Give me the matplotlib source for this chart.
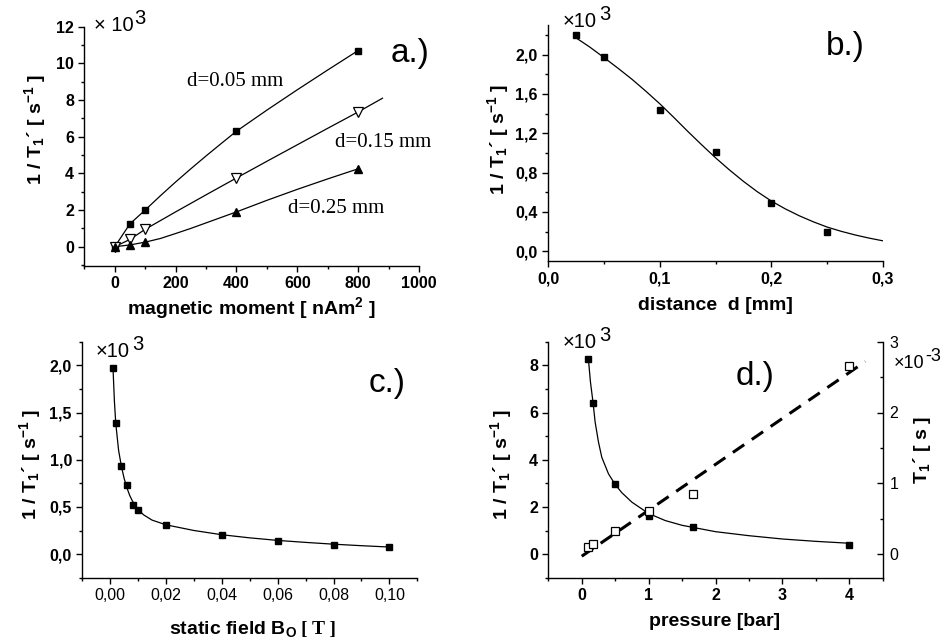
import matplotlib
matplotlib.use("Agg")
import matplotlib.pyplot as plt
from matplotlib.ticker import FixedLocator, MultipleLocator, FixedFormatter

plt.rcParams['font.family'] = ['Liberation Sans', 'DejaVu Sans']
plt.rcParams['mathtext.fontset'] = 'custom'
plt.rcParams['mathtext.rm'] = 'Liberation Sans'
plt.rcParams['mathtext.bf'] = 'Liberation Sans:bold'
plt.rcParams['mathtext.it'] = 'Liberation Sans:italic'

# ---------------- data ----------------
# panel a: 1/T1' (x10^3 s^-1) vs magnetic moment (nAm^2)
a_moment = [0, 50, 100, 400, 800]
a_d005 = [0, 1.25, 2.0, 6.3, 10.7]
a_d015 = [0, 0.4, 0.95, 3.75, 7.35]
a_d025 = [0, 0.1, 0.25, 1.9, 4.25]
a_curve005_x = [0, 50, 100, 150, 200, 250, 300, 350, 400, 500, 600, 700, 800]
a_curve005_y = [0, 1.25, 2.0, 2.78, 3.53, 4.25, 4.95, 5.63, 6.3, 7.45, 8.56, 9.64, 10.7]
a_curve015_x = [0, 50, 100, 200, 300, 400, 500, 600, 700, 800, 880]
a_curve015_y = [0, 0.4, 0.95, 1.9, 2.83, 3.75, 4.66, 5.56, 6.46, 7.35, 8.1]
a_curve025_x = [0, 50, 100, 150, 200, 250, 300, 350, 400, 500, 600, 700, 800]
a_curve025_y = [0, 0.1, 0.25, 0.45, 0.72, 1.0, 1.3, 1.6, 1.9, 2.53, 3.13, 3.7, 4.25]
a_yticks = [0, 2, 4, 6, 8, 10, 12]
a_xticks = [0, 200, 400, 600, 800, 1000]

# panel b: 1/T1' vs distance d (mm)
b_dist = [0.025, 0.05, 0.1, 0.15, 0.2, 0.25]
b_rate = [2.2, 1.97, 1.44, 1.01, 0.49, 0.2]
b_fit_x = [0.025, 0.0375, 0.05, 0.0625, 0.075, 0.0875, 0.1, 0.1125, 0.125, 0.1375, 0.15,
           0.1625, 0.175, 0.1875, 0.2, 0.2125, 0.225, 0.2375, 0.25, 0.2625, 0.275, 0.2875, 0.3]
b_fit_y = [2.17, 2.075, 1.97, 1.862, 1.75, 1.628, 1.5, 1.362, 1.22, 1.083, 0.95,
           0.826, 0.71, 0.604, 0.51, 0.43, 0.36, 0.299, 0.245, 0.202, 0.165, 0.133, 0.105]
b_yticks = [0.0, 0.4, 0.8, 1.2, 1.6, 2.0]
b_ylabels = ['0,0', '0,4', '0,8', '1,2', '1,6', '2,0']
b_xticks = [0.0, 0.1, 0.2, 0.3]
b_xlabels = ['0,0', '0,1', '0,2', '0,3']

# panel c: 1/T1' vs static field B0 (T)
c_field = [0.001, 0.002, 0.004, 0.006, 0.008, 0.01, 0.02, 0.04, 0.06, 0.08, 0.1]
c_rate = [1.97, 1.39, 0.93, 0.73, 0.52, 0.47, 0.31, 0.2, 0.135, 0.1, 0.07]
c_fit_x = [0.001, 0.0015, 0.002, 0.003, 0.004, 0.005, 0.006, 0.007, 0.008, 0.01, 0.012,
           0.015, 0.02, 0.03, 0.04, 0.05, 0.06, 0.07, 0.08, 0.09, 0.1]
c_fit_y = [1.97, 1.62, 1.38, 1.1, 0.93, 0.8, 0.7, 0.62, 0.56, 0.47, 0.415,
           0.36, 0.31, 0.25, 0.205, 0.172, 0.145, 0.124, 0.105, 0.089, 0.075]
c_yticks = [0.0, 0.5, 1.0, 1.5, 2.0]
c_ylabels = ['0,0', '0,5', '1,0', '1,5', '2,0']
c_xticks = [0.0, 0.02, 0.04, 0.06, 0.08, 0.10]
c_xlabels = ['0,00', '0,02', '0,04', '0,06', '0,08', '0,10']

# panel d: 1/T1' and T1' vs pressure (bar)
d_press = [0.1, 0.17, 0.5, 1.0, 1.67, 4.0]
d_rate = [8.25, 6.4, 2.95, 1.6, 1.15, 0.4]
d_T1 = [0.103, 0.14, 0.33, 0.61, 0.85, 2.66]
d_fit_x = [0.1, 0.13, 0.17, 0.2, 0.25, 0.3, 0.4, 0.5, 0.6, 0.75, 1.0, 1.25, 1.5, 2.0, 2.5, 3.0, 3.5, 4.0]
d_fit_y = [8.25, 7.3, 6.4, 5.6, 4.75, 4.1, 3.4, 2.95, 2.6, 2.2, 1.72, 1.42, 1.22, 0.95, 0.78, 0.64, 0.54, 0.46]
d_line_x = [0.0, 4.24]
d_line_y = [-0.03, 2.72]
d_yticks = [0, 2, 4, 6, 8]
d_y2ticks = [0, 1, 2, 3]
d_xticks = [0, 1, 2, 3, 4]

# ---------------- layout helpers ----------------
W, H = 949, 643
fig = plt.figure(figsize=(W / 100, H / 100), dpi=100)


def box(l, t, r, b):
    return [l / W, 1 - b / H, (r - l) / W, (b - t) / H]


def ftext(x, y, s, **kw):
    return fig.text(x / W, 1 - y / H, s, **kw)


TICK = 11.5
LAB = 14


def style(ax, xbold=True, ybold=True):
    for s in ['top', 'right']:
        ax.spines[s].set_visible(False)
    for s in ['left', 'bottom']:
        ax.spines[s].set_linewidth(1.0)
    ax.tick_params(which='major', direction='out', length=4.5, width=1.0, labelsize=TICK, pad=3)
    ax.tick_params(which='minor', direction='out', length=2.5, width=1.0)
    for lab in ax.get_xticklabels():
        lab.set_fontweight('bold' if xbold else 'normal')
    for lab in ax.get_yticklabels():
        lab.set_fontweight('bold' if ybold else 'normal')


ylab = r"1 / T$_{\mathbf{1}}$´ [ s$^{\mathbf{-1}}$ ]"
msq = dict(marker='s', color='black', markersize=5, linestyle='none')
lw = 0.9
XS = 14.5  # size of the "x10^n" factor text

# ---------------- panel a ----------------
ax = fig.add_axes(box(84.3, 26.7, 419, 266))
ax.plot(a_curve005_x, a_curve005_y, color='black', lw=lw)
ax.plot(a_curve015_x, a_curve015_y, color='black', lw=lw)
ax.plot(a_curve025_x, a_curve025_y, color='black', lw=lw)
ax.plot(a_moment, a_d005, **msq)
ax.plot(a_moment, a_d015, marker='v', markerfacecolor='white', markeredgecolor='black',
        markersize=6.5, markeredgewidth=0.9, linestyle='none')
ax.plot(a_moment, a_d025, marker='^', color='black', markersize=6, linestyle='none')
ax.set_xlim(-100, 1000)
ax.set_ylim(-1.05, 12)
ax.xaxis.set_major_locator(FixedLocator(a_xticks))
ax.xaxis.set_minor_locator(MultipleLocator(100))
ax.yaxis.set_major_locator(FixedLocator(a_yticks))
ax.yaxis.set_minor_locator(MultipleLocator(1))
style(ax)
ftext(187, 86, "d=0.05 mm", family='Liberation Serif', fontsize=15)
ftext(335, 147, "d=0.15 mm", family='Liberation Serif', fontsize=15)
ftext(288, 213, "d=0.25 mm", family='Liberation Serif', fontsize=15)
ftext(391, 62, "a.)", fontsize=24)
ftext(94, 31, "× 10", fontsize=XS)
ftext(134, 24, "3", fontsize=XS)
ftext(35, 130, ylab, fontsize=LAB, fontweight='bold', rotation=90, ha='center', va='center')
ftext(251, 308, r"magnetic moment [ nAm$^{\mathbf{2}}$ ]", fontsize=LAB, fontweight='bold',
      ha='center', va='center')

# ---------------- panel b ----------------
ax = fig.add_axes(box(548, 25, 883, 261))
ax.plot(b_fit_x, b_fit_y, color='black', lw=lw)
ax.plot(b_dist, b_rate, **msq)
ax.set_xlim(0, 0.3)
ax.set_ylim(-0.1, 2.3)
ax.xaxis.set_major_locator(FixedLocator(b_xticks))
ax.xaxis.set_major_formatter(FixedFormatter(b_xlabels))
ax.xaxis.set_minor_locator(MultipleLocator(0.05))
ax.yaxis.set_major_locator(FixedLocator(b_yticks))
ax.yaxis.set_major_formatter(FixedFormatter(b_ylabels))
ax.yaxis.set_minor_locator(MultipleLocator(0.2))
style(ax)
ftext(826, 55, "b.)", fontsize=24)
ftext(563, 27, "×10", fontsize=XS)
ftext(599, 20, "3", fontsize=XS)
ftext(498, 140, ylab, fontsize=LAB, fontweight='bold', rotation=90, ha='center', va='center')
ftext(715, 305, "distance  d [mm]", fontsize=LAB, fontweight='bold', ha='center', va='center')

# ---------------- panel c ----------------
ax = fig.add_axes(box(82.3, 341.7, 417.3, 577.7))
ax.plot(c_fit_x, c_fit_y, color='black', lw=lw)
ax.plot(c_field, c_rate, **msq)
ax.set_xlim(-0.01, 0.11)
ax.set_ylim(-0.25, 2.25)
ax.xaxis.set_major_locator(FixedLocator(c_xticks))
ax.xaxis.set_major_formatter(FixedFormatter(c_xlabels))
ax.xaxis.set_minor_locator(MultipleLocator(0.01))
ax.yaxis.set_major_locator(FixedLocator(c_yticks))
ax.yaxis.set_major_formatter(FixedFormatter(c_ylabels))
ax.yaxis.set_minor_locator(MultipleLocator(0.25))
style(ax, xbold=False)
ftext(369, 392, "c.)", fontsize=24)
ftext(96, 357, "×10", fontsize=XS)
ftext(132, 350, "3", fontsize=XS)
ftext(30, 465, ylab, fontsize=LAB, fontweight='bold', rotation=90, ha='center', va='center')
ftext(297, 634, r"static field B$_{\mathbf{O}}$", fontsize=LAB, fontweight='bold',
      ha='right', va='baseline')
ftext(301, 634, "[ T ]", fontsize=LAB, fontweight='bold', family='Liberation Serif',
      ha='left', va='baseline')

# ---------------- panel d ----------------
ax = fig.add_axes(box(548.3, 341.7, 882.7, 577.7))
ax.plot(d_fit_x, d_fit_y, color='black', lw=lw)
ax.plot(d_press, d_rate, **msq)
ax.set_xlim(-0.5, 4.5)
ax.set_ylim(-1, 9)
ax.xaxis.set_major_locator(FixedLocator(d_xticks))
ax.xaxis.set_minor_locator(MultipleLocator(0.5))
ax.yaxis.set_major_locator(FixedLocator(d_yticks))
ax.yaxis.set_minor_locator(MultipleLocator(1))
style(ax)
ax2 = ax.twinx()
ax2.plot(d_line_x, d_line_y, color='black', lw=2.2, dashes=(4.5, 3))
ax2.plot(d_press, d_T1, marker='s', markerfacecolor='white', markeredgecolor='black',
         markersize=6, markeredgewidth=0.9, linestyle='none')
ax2.set_ylim(-1 / 3, 3)
for s in ['top', 'left', 'bottom']:
    ax2.spines[s].set_visible(False)
ax2.spines['right'].set_linewidth(1.0)
ax2.yaxis.set_major_locator(FixedLocator(d_y2ticks))
ax2.yaxis.set_minor_locator(MultipleLocator(0.5))
ax2.tick_params(which='major', direction='in', length=4.5, width=1.0, labelsize=TICK, pad=5)
ax2.tick_params(which='minor', direction='in', length=2.5, width=1.0)
ftext(736, 385, "d.)", fontsize=24)
ftext(563, 348, "×10", fontsize=XS)
ftext(599, 341, "3", fontsize=XS)
ftext(894, 368, "×10", fontsize=13)
ftext(925, 361, "-3", fontsize=13)
ftext(501, 465, ylab, fontsize=LAB, fontweight='bold', rotation=90, ha='center', va='center')
ftext(922, 450, r"T$_{\mathbf{1}}$´ [ s ]", fontsize=LAB, fontweight='bold', rotation=90,
      ha='center', va='center')
ftext(715, 622, "pressure [bar]", fontsize=LAB, fontweight='bold', ha='center', va='center')

fig.savefig("out.png", dpi=100)
